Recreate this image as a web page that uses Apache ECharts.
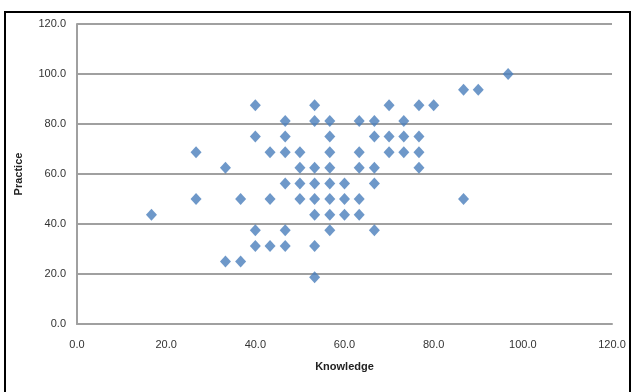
<!DOCTYPE html>
<html>
<head>
<meta charset="utf-8">
<script src="https://cdn.jsdelivr.net/npm/echarts@6/dist/echarts.min.js"></script>
<style>
  html, body { margin: 0; padding: 0; background: #fff; }
  #chart { width: 634px; height: 392px; }
</style>
</head>
<body>
<div id="chart"></div>
<script>
// Knowledge score (x) and practice score (y) for each respondent
const knowledge = [
  16.7, 26.7, 26.7, 33.3, 33.3, 36.7, 36.7,
  40, 40, 40, 40, 43.3, 43.3, 43.3,
  46.7, 46.7, 46.7, 46.7, 46.7, 46.7,
  50, 50, 50, 50,
  53.3, 53.3, 53.3, 53.3, 53.3, 53.3, 53.3, 53.3,
  56.7, 56.7, 56.7, 56.7, 56.7, 56.7, 56.7, 56.7,
  60, 60, 60,
  63.3, 63.3, 63.3, 63.3, 63.3,
  66.7, 66.7, 66.7, 66.7, 66.7,
  70, 70, 70, 73.3, 73.3, 73.3,
  76.7, 76.7, 76.7, 76.7, 80,
  86.7, 86.7, 90, 96.7
];
const practice = [
  43.75, 68.75, 50, 62.5, 25, 50, 25,
  87.5, 75, 37.5, 31.25, 68.75, 50, 31.25,
  81.25, 75, 68.75, 56.25, 37.5, 31.25,
  68.75, 62.5, 56.25, 50,
  87.5, 81.25, 62.5, 56.25, 50, 43.75, 31.25, 18.75,
  81.25, 75, 68.75, 62.5, 56.25, 50, 43.75, 37.5,
  56.25, 50, 43.75,
  81.25, 68.75, 62.5, 50, 43.75,
  81.25, 75, 62.5, 56.25, 37.5,
  87.5, 75, 68.75, 81.25, 75, 68.75,
  87.5, 75, 68.75, 62.5, 87.5,
  93.75, 50, 93.75, 100
];
const xTicks = [0, 20, 40, 60, 80, 100, 120];
const yTicks = [0, 20, 40, 60, 80, 100, 120];

const points = knowledge.map((k, i) => [k, practice[i]]);

const chart = echarts.init(document.getElementById('chart'));

const labelStyle = {
  color: '#333',
  fontSize: 11,
  fontFamily: 'Liberation Sans, Arial, sans-serif',
  formatter: v => v.toFixed(1)
};

chart.setOption({
  backgroundColor: '#fff',
  animation: false,
  graphic: [
    {
      type: 'rect',
      shape: { x: 5, y: 12, width: 625, height: 400 },
      style: { fill: 'none', stroke: '#000', lineWidth: 2 },
      silent: true
    }
  ],
  grid: { left: 77, right: 22, top: 24, bottom: 68 },
  xAxis: {
    type: 'value',
    min: xTicks[0],
    max: xTicks[xTicks.length - 1],
    interval: 20,
    name: 'Knowledge',
    nameLocation: 'middle',
    nameGap: 37,
    nameTextStyle: { fontSize: 11, fontWeight: 'bold', color: '#222', fontFamily: 'Liberation Sans, Arial, sans-serif' },
    axisLine: { show: true, lineStyle: { color: '#a0a0a0', width: 2 } },
    axisTick: { show: false },
    splitLine: { show: false },
    axisLabel: Object.assign({ margin: 15 }, labelStyle)
  },
  yAxis: {
    type: 'value',
    min: yTicks[0],
    max: yTicks[yTicks.length - 1],
    interval: 20,
    name: 'Practice',
    nameLocation: 'middle',
    nameGap: 53,
    nameRotate: 90,
    nameTextStyle: { fontSize: 11, fontWeight: 'bold', color: '#222', fontFamily: 'Liberation Sans, Arial, sans-serif' },
    axisLine: { show: true, lineStyle: { color: '#a0a0a0', width: 2 } },
    axisTick: { show: false },
    splitLine: { show: true, lineStyle: { color: '#a0a0a0', width: 2 } },
    axisLabel: Object.assign({ margin: 11 }, labelStyle)
  },
  series: [
    {
      type: 'scatter',
      symbol: 'diamond',
      symbolSize: [11, 12],
      itemStyle: { color: '#4a7ebb' },
      data: points
    }
  ]
});
</script>
</body>
</html>
